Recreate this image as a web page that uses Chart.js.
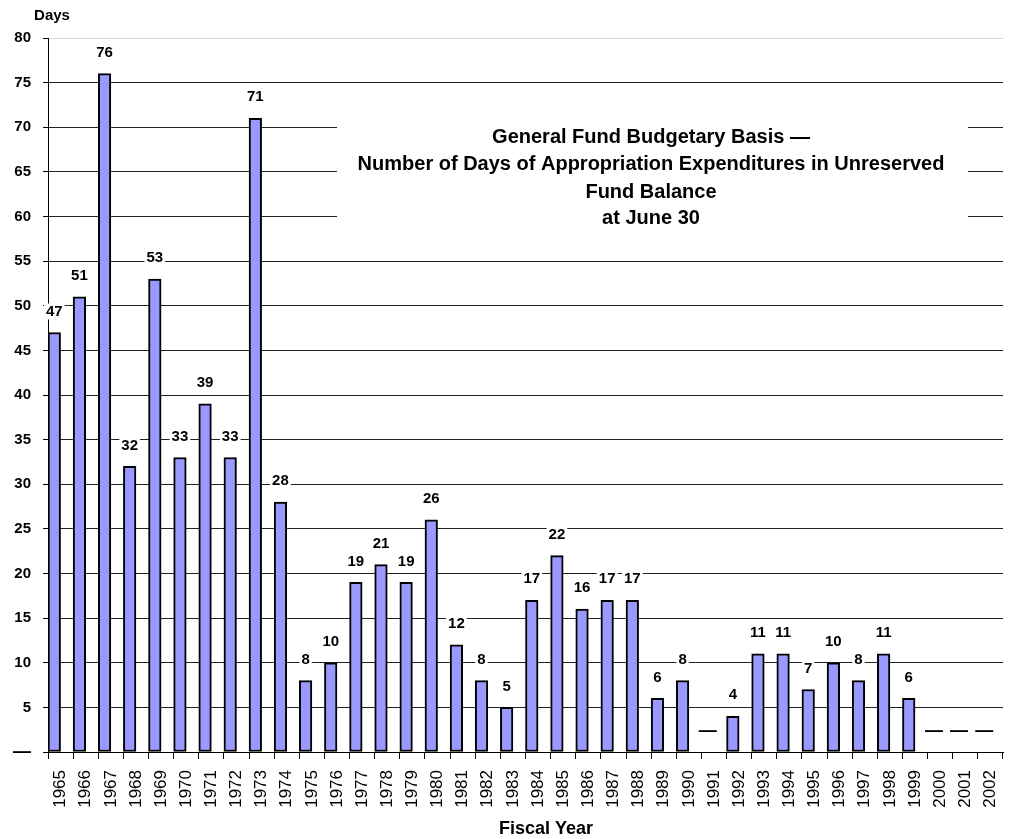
<!DOCTYPE html>
<html><head><meta charset="utf-8">
<script src="https://cdn.jsdelivr.net/npm/chart.js@4.4.1/dist/chart.umd.min.js"></script>
<style>html,body{margin:0;padding:0;background:#fff}#c{display:block}</style>
</head><body>
<canvas id="c" width="1010" height="839"></canvas>
<script>
// ---- data ----
const years = ['1965','1966','1967','1968','1969','1970','1971','1972','1973','1974','1975','1976','1977','1978','1979','1980','1981','1982','1983','1984','1985','1986','1987','1988','1989','1990','1991','1992','1993','1994','1995','1996','1997','1998','1999','2000','2001','2002'];
const days = [47,51,76,32,53,33,39,33,71,28,8,10,19,21,19,26,12,8,5,17,22,16,17,17,6,8,0,4,11,11,7,10,8,11,6,0,0,0];
const yMin = 0, yMax = 80, yStep = 5;
const zeroLabel = '—';
const titleLines = ['General Fund Budgetary Basis —','Number of Days of Appropriation Expenditures in Unreserved','Fund Balance','at June 30'];
const yTitle = 'Days';
const xTitle = 'Fiscal Year';

// ---- styling ----
const FONT = '"Liberation Sans", Arial, Helvetica, sans-serif';

function drawText(ctx, text, x, y, font) {
  ctx.save();
  ctx.font = font;
  ctx.textAlign = 'center';
  ctx.textBaseline = 'middle';
  ctx.fillStyle = '#000';
  ctx.fillText(text, x, y);
  ctx.restore();
}

const overlay = {
  id: 'overlay',
  beforeDatasetsDraw(chart) {
    const ctx = chart.ctx;
    // white title box over the grid
    ctx.save();
    ctx.fillStyle = '#fff';
    ctx.fillRect(337, 116, 631, 118);
    ctx.restore();
    const ys = [137, 164, 192, 218];
    titleLines.forEach((t, i) => drawText(ctx, t, 651, ys[i], 'bold 20px ' + FONT));
  },
  afterDatasetsDraw(chart) {
    const ctx = chart.ctx;
    const meta = chart.getDatasetMeta(0);
    meta.data.forEach((el, i) => {
      const v = days[i];
      const txt = v === 0 ? zeroLabel : String(v);
      const font = 'bold ' + (v === 0 ? 18 : 15) + 'px ' + FONT;
      const cx = el.x, cy = el.y - 21;
      ctx.save();
      ctx.font = font;
      const w = ctx.measureText(txt).width + 4;
      ctx.fillStyle = '#fff';
      ctx.fillRect(cx - w / 2, cy - 8, w, 16);
      ctx.restore();
      drawText(ctx, txt, cx, cy, font);
    });
  },
  afterDraw(chart) {
    const ctx = chart.ctx;
    drawText(ctx, yTitle, 52, 16, 'bold 15px ' + FONT);
    drawText(ctx, xTitle, 546, 829, 'bold 18px ' + FONT);
  }
};

new Chart(document.getElementById('c'), {
  type: 'bar',
  data: {
    labels: years,
    datasets: [
      { label: 'Days', data: days, backgroundColor: '#9999FF', borderColor: '#000', borderWidth: 2, borderSkipped: false },
      { label: '', data: years.map(() => null) }
    ]
  },
  options: {
    responsive: false,
    animation: false,
    devicePixelRatio: 1,
    layout: { padding: { top: 38, right: 7, left: 0, bottom: 0 } },
    plugins: { legend: { display: false }, tooltip: { enabled: false } },
    datasets: { bar: { categoryPercentage: 1.0, barPercentage: 1.0 } },
    scales: {
      x: {
        grid: { offset: true, drawOnChartArea: false, drawTicks: true, tickLength: 7, color: '#000', tickColor: '#000' },
        border: { color: '#000', width: 1 },
        ticks: { autoSkip: false, maxRotation: 90, minRotation: 90, padding: 11, color: '#000', font: { family: FONT, size: 17 } },
        afterFit(s) { s.height = 87; s.paddingLeft = 0; s.paddingRight = 0; }
      },
      y: {
        min: yMin, max: yMax,
        grid: {
          color: (c) => (c.tick && c.tick.value === yMax) ? '#d8d8d8' : '#222',
          tickColor: '#000', tickLength: 5, lineWidth: 1
        },
        border: { color: '#000', width: 1 },
        ticks: {
          stepSize: yStep, padding: 12, color: '#000',
          font: (c) => ({ family: FONT, size: (c.tick && c.tick.value === 0) ? 18 : 15, weight: 'bold' }),
          callback: (v) => v === 0 ? zeroLabel : v
        },
        afterFit(s) { s.width = 48; s.paddingTop = 0; s.paddingBottom = 0; }
      }
    }
  },
  plugins: [overlay]
});
</script>
</body></html>
